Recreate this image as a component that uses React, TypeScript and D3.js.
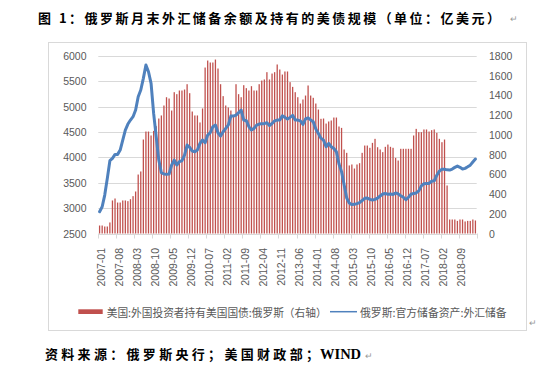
import React from "react";
import * as d3 from "d3";

// ---- data ----
const startYear = 2007;
const monthCount = 147; // 2007-01 .. 2019-03
const categories: string[] = Array.from({ length: monthCount }, (_, i) => {
  const y = startYear + Math.floor(i / 12);
  const m = (i % 12) + 1;
  return `${y}-${m < 10 ? "0" + m : m}`;
});

const tickLabels = [
  "2007-01", "2007-08", "2008-03", "2008-10", "2009-05", "2009-12", "2010-07",
  "2011-02", "2011-09", "2012-04", "2012-11", "2013-06", "2014-01", "2014-08",
  "2015-03", "2015-10", "2016-05", "2016-12", "2017-07", "2018-02", "2018-09",
];

// 美国:外国投资者持有美国国债:俄罗斯 (亿美元, right axis)
const ustHoldings = [
  81, 81, 71, 71, 112, 335, 355, 314, 314, 335,
  335, 328, 348, 379, 426, 598, 629, 953, 1034, 1034,
  994, 1041, 1088, 1166, 1197, 1298, 1382, 1369, 1247, 1433,
  1413, 1450, 1450, 1460, 1514, 1423, 1237, 1197, 1197, 1126,
  1268, 1683, 1754, 1734, 1734, 1764, 1673, 1514, 1393, 1298,
  1278, 1247, 1197, 1514, 1413, 1382, 1504, 1474, 1450, 1494,
  1450, 1450, 1514,
  1551, 1562, 1636, 1562, 1622, 1636, 1714, 1663, 1612, 1643,
  1643, 1535, 1487, 1433, 1382, 1318, 1359, 1399, 1501, 1399,
  1376, 1318, 1257, 1163, 1166, 1115, 1136, 1146, 1176, 1176,
  1085, 1071, 852, 818, 690, 700, 659, 700, 713, 818,
  892, 892, 869, 919, 960, 875, 852, 825, 879, 902,
  879, 869, 767, 740, 859, 859, 859, 859, 859, 994,
  1061, 1028, 1028, 1055, 1055, 1034, 1048, 1055, 1021, 960,
  926, 953, 487, 142, 142, 142, 128, 142, 142, 122,
  128, 128, 142, 132,
];

// 俄罗斯:官方储备资产:外汇储备 (亿美元, left axis)
const fxReserves = [
  2930, 3028, 3258, 3587, 3935, 3982, 4060, 4060, 4146, 4343,
  4540, 4658, 4737, 4803, 4935, 5198, 5329, 5559, 5822, 5690,
  5460, 4868, 4408, 3948, 3699, 3673, 3666, 3673, 3850, 3948,
  3850, 3916, 3935, 4047, 4244, 4198, 4126, 4113, 4146, 4277,
  4343, 4290, 4441, 4487, 4606, 4638, 4487, 4421, 4507, 4573,
  4638, 4816, 4816, 4835, 4882, 4935, 4737, 4724, 4606, 4540,
  4573, 4638, 4658,
  4665, 4665, 4685, 4630, 4670, 4720, 4737, 4737, 4820, 4790,
  4755, 4790, 4830, 4740, 4737, 4720, 4650, 4760, 4780, 4740,
  4705, 4560, 4470, 4380, 4340, 4211, 4277, 4211, 4175, 4113,
  3870, 3720, 3460, 3200, 3100, 3070, 3075, 3090, 3110, 3150,
  3195, 3200, 3173, 3160, 3173, 3199, 3239, 3278, 3290, 3272,
  3278, 3271, 3300, 3280, 3245, 3215, 3165, 3215, 3275, 3290,
  3300, 3340, 3440, 3480, 3488, 3488, 3530, 3540, 3650, 3730,
  3765, 3765, 3755, 3751, 3771, 3804, 3830, 3805, 3771, 3784,
  3815, 3848, 3910, 3968,
];

const leftTicks = [2500, 3000, 3500, 4000, 4500, 5000, 5500, 6000];
const rightTicks = [0, 200, 400, 600, 800, 1000, 1200, 1400, 1600, 1800];

const titleText = "图 1：俄罗斯月末外汇储备余额及持有的美债规模（单位：亿美元）";
const sourceText = "资料来源：俄罗斯央行；美国财政部；";
const sourceLatin = "WIND";
const legendBar = "美国:外国投资者持有美国国债:俄罗斯（右轴）";
const legendLine = "俄罗斯:官方储备资产:外汇储备";

export default function App() {
  const W = 552, H = 383;
  const x0 = 98.3, x1 = 476.7, yTop = 56, yBot = 233.5;

  const step = (x1 - x0) / categories.length;
  const xIndex = d3.scaleLinear().domain([0, categories.length]).range([x0, x1]);
  const cx = (c: string) => xIndex(categories.indexOf(c) + 0.5);
  const yL = d3.scaleLinear().domain([2500, 6000]).range([yBot, yTop]);
  const yR = d3.scaleLinear().domain([0, 1800]).range([yBot, yTop]);
  const barW = step * 0.5;

  const line = d3
    .line<number>()
    .x((_, i) => cx(categories[i]))
    .y((d) => yL(d));

  const tickIdx = d3.range(0, categories.length + 1, 7);
  const axisFont = "'Liberation Sans', Arial, sans-serif";
  const cjk = "'Noto Sans CJK SC', 'Noto Sans', sans-serif";
  const grey = "#595959";

  return (
    <svg width={W} height={H} style={{ position: "absolute", left: 0, top: 0, background: "#fff" }}>
      <rect x={0} y={0} width={W} height={H} fill="#fff" />
      {/* title */}
      <text x={38} y={23} fontFamily={cjk} fontWeight={700} fontSize={13} fill="#000" textLength={462} lengthAdjust="spacing">
        {titleText}
      </text>
      <text x={510} y={22} fontFamily={axisFont} fontSize={9} fill="#999">↵</text>

      {/* chart border */}
      <rect x={48.5} y={42.5} width={478} height={288} fill="none" stroke="#d9d9d9" strokeWidth={1} />

      {/* gridlines */}
      {leftTicks.map((t) => (
        <line key={t} x1={x0} x2={x1} y1={Math.round(yL(t)) + 0.5} y2={Math.round(yL(t)) + 0.5} stroke="#d9d9d9" strokeWidth={1} />
      ))}

      {/* bars */}
      {ustHoldings.map((v, i) => (
        <rect key={i} x={cx(categories[i]) - barW / 2} y={yR(v)} width={barW} height={yR(0) - yR(v)} fill="#C0504D" />
      ))}

      {/* line */}
      <path d={line(fxReserves) || ""} fill="none" stroke="#4F81BD" strokeWidth={3} strokeLinejoin="round" strokeLinecap="round" />

      {/* x axis ticks */}
      {tickIdx.map((k) => {
        const xx = Math.round(xIndex(k)) + 0.5;
        return <line key={k} x1={xx} x2={xx} y1={yBot} y2={yBot + 5} stroke="#d9d9d9" strokeWidth={1} />;
      })}
      {tickLabels.map((lab) => {
        const xx = cx(lab) + 1;
        return (
          <text key={lab} transform={`translate(${xx},248) rotate(-90)`} textAnchor="end" dominantBaseline="central" fontFamily={axisFont} fontSize={10.5} fill={grey}>
            {lab}
          </text>
        );
      })}

      {/* left axis labels */}
      {leftTicks.map((t) => (
        <text key={t} x={86.5} y={yL(t)} textAnchor="end" dominantBaseline="central" fontFamily={axisFont} fontSize={10.5} fill={grey}>
          {t}
        </text>
      ))}
      {/* right axis labels */}
      {rightTicks.map((t) => (
        <text key={t} x={489} y={yR(t)} textAnchor="start" dominantBaseline="central" fontFamily={axisFont} fontSize={10.5} fill={grey}>
          {t}
        </text>
      ))}

      {/* legend */}
      <rect x={78.3} y={309.3} width={24.4} height={4.7} fill="#C0504D" />
      <text x={106.7} y={312} dominantBaseline="central" fontFamily={cjk} fontSize={11} fill={grey} textLength={220} lengthAdjust="spacingAndGlyphs">
        {legendBar}
      </text>
      <line x1={330} x2={357} y1={311.7} y2={311.7} stroke="#4F81BD" strokeWidth={1.5} />
      <text x={360} y={312} dominantBaseline="central" fontFamily={cjk} fontSize={11} fill={grey} textLength={146.7} lengthAdjust="spacingAndGlyphs">
        {legendLine}
      </text>
      <text x={529} y={326} fontFamily={axisFont} fontSize={9} fill="#999">↵</text>

      {/* source */}
      <text x={45} y={359} fontFamily={cjk} fontWeight={700} fontSize={13} fill="#000" textLength={274} lengthAdjust="spacing">
        {sourceText}
      </text>
      <text x={320} y={359} fontFamily="'Liberation Serif', serif" fontWeight={700} fontSize={14.5} fill="#000">
        {sourceLatin}
      </text>
      <text x={365} y={359} fontFamily={axisFont} fontSize={9} fill="#999">↵</text>
    </svg>
  );
}
